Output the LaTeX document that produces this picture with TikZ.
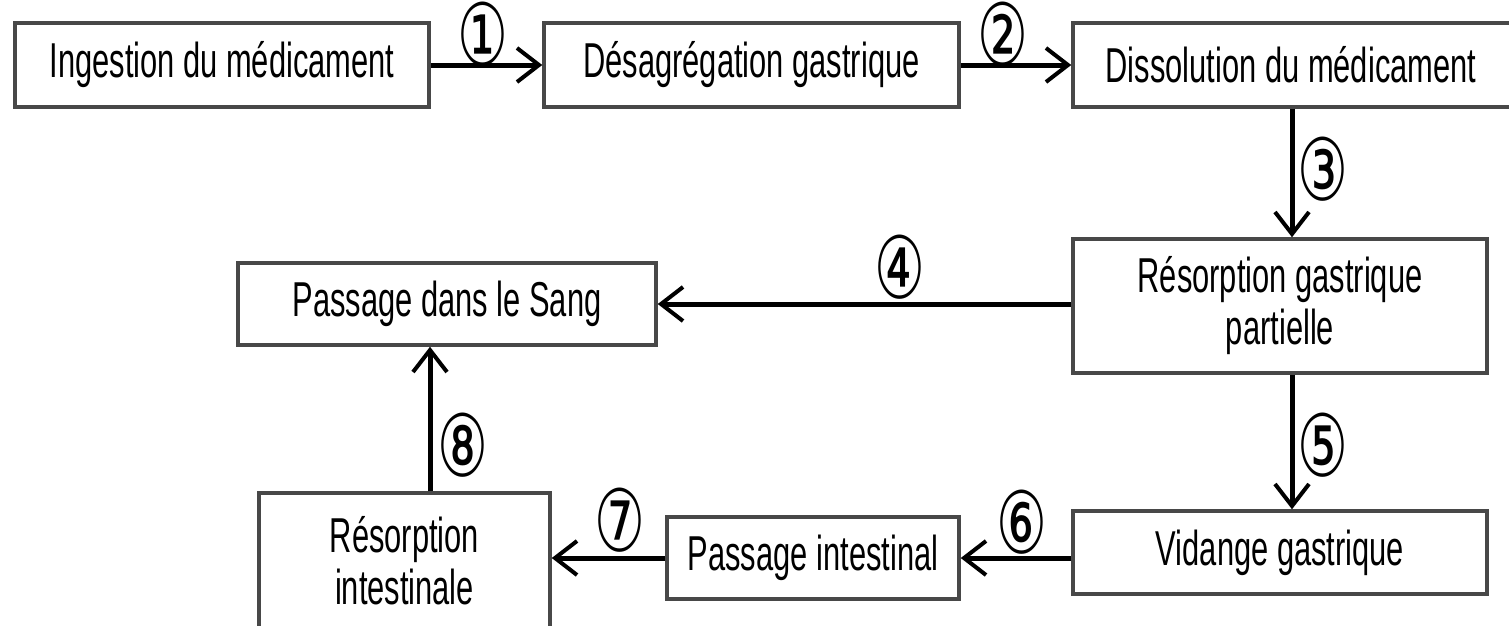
\documentclass[tikz,border=0pt]{standalone}
\usepackage{fontspec}
\setmainfont{Liberation Sans}[FakeStretch=0.63]
\newfontfamily\circfont{DejaVu Sans}[FakeStretch=0.66]
\usetikzlibrary{arrows.meta,calc}
\definecolor{boxline}{RGB}{72,72,72}
\begin{document}
\begin{tikzpicture}[x=1pt,y=-1pt,
  stepbox/.style={draw=boxline,line width=3.5pt,fill=white,align=center,
    inner sep=0pt,font=\fontsize{49}{52}\selectfont},
  flow/.style={line width=5pt,black,-{Straight Barb[length=22pt,width=34pt,line width=4pt]}},
  num/.style={font=\circfont\fontsize{86}{86}\selectfont,inner sep=0pt}]
\useasboundingbox (0,0) rectangle (1509,625);
\clip (0,0) rectangle (1509,625);
% boxes
\node[stepbox,minimum width=414pt,minimum height=84pt] (b1) at (222,65) {Ingestion du médicament};
\node[stepbox,minimum width=415pt,minimum height=84pt] (b2) at (751.5,65) {Désagrégation gastrique};
\node[stepbox,minimum width=450pt,minimum height=84pt] (b3) at (1298,65) {\hspace*{-14pt}Dissolution du médicament};
\node[stepbox,minimum width=414pt,minimum height=134pt] (b4) at (1280,306) {Résorption gastrique\\partielle};
\node[stepbox,minimum width=418pt,minimum height=82pt] (b5) at (447,304) {Passage dans le Sang};
\node[stepbox,minimum width=414pt,minimum height=83pt] (b6) at (1280,552.5) {Vidange gastrique};
\node[stepbox,minimum width=292pt,minimum height=82pt] (b7) at (813,558) {Passage intestinal};
\node[stepbox,minimum width=291pt,minimum height=135pt] (b8) at (404.5,560.5) {Résorption\\intestinale};
% helper coordinates
\coordinate (cv) at (1292,0);
\coordinate (c8) at (430,0);
% connectors
\draw[flow] (b1.east) -- (b2.west);
\draw[flow] (b2.east) -- (b3.west);
\draw[flow] (cv |- b3.south) -- (cv |- b4.north);
\draw[flow] (b4.west |- b5.east) -- (b5.east);
\draw[flow] (cv |- b4.south) -- (cv |- b6.north);
\draw[flow] (b6.west |- b7.east) -- (b7.east);
\draw[flow] (b7.west) -- (b8.east |- b7.west);
\draw[flow] (c8 |- b8.north) -- (c8 |- b5.south);
% labels
\node[num] (n1) at (483,34) {①};
\node[num] (n2) at (1003,34) {②};
\node[num] (n3) at (1323,169) {③};
\node[num] (n4) at (900,267) {④};
\node[num] (n5) at (1323,445) {⑤};
\node[num] (n6) at (1022,522) {⑥};
\node[num] (n7) at (620,520) {⑦};
\node[num] (n8) at (463,445) {⑧};
\end{tikzpicture}
\end{document}
